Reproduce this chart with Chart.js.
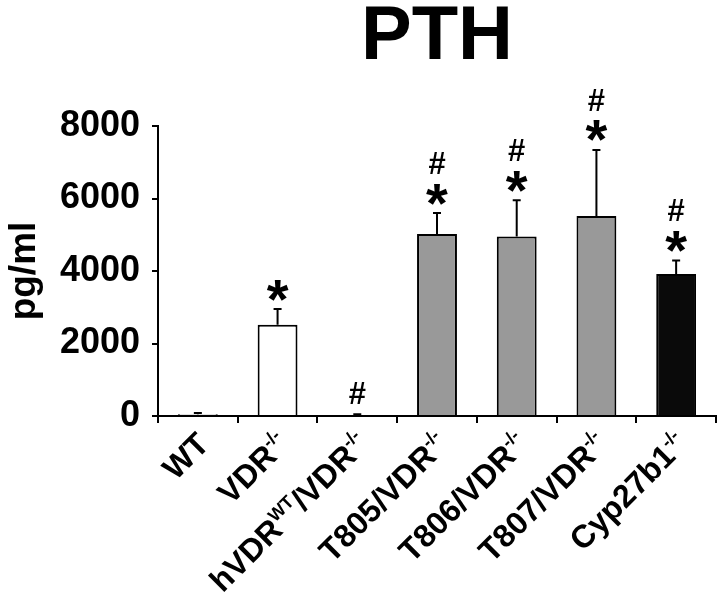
<!DOCTYPE html>
<html>
<head>
<meta charset="utf-8">
<script src="https://cdn.jsdelivr.net/npm/chart.js@4.4.0/dist/chart.umd.min.js"></script>
<style>
  body { margin: 0; background: #fff; }
  canvas { display: block; }
</style>
</head>
<body>
<canvas id="pthChart" width="726" height="613"></canvas>
<script>
// data
const groups = ['WT', 'VDR{-/-}', 'hVDR{WT}/VDR{-/-}', 'T805/VDR{-/-}', 'T806/VDR{-/-}', 'T807/VDR{-/-}', 'Cyp27b1{-/-}']
const pthMean = [50, 2520, 30, 5020, 4950, 5520, 3920]
const pthSem = [30, 430, 15, 580, 1000, 1820, 370]
const starMark = [false, true, false, true, true, true, true]   // * vs WT
const hashMark = [false, false, true, true, true, true, true]   // # vs VDR-/-
const barColors = ['#ffffff', '#ffffff', '#ffffff', '#999999', '#999999', '#999999', '#0a0a0a']
const yTicks = [0, 2000, 4000, 6000, 8000]

const FONT = "'Liberation Sans', Arial, Helvetica, sans-serif"
Chart.defaults.font.family = FONT
Chart.defaults.color = '#000'

// split "VDR{-/-}" into [text, isSup] pieces
const parseLabel = (s) => {
  const parts = []
  s.split(/(\{[^}]*\})/).forEach((p) => {
    if (!p) return
    if (p[0] === '{') parts.push([p.slice(1, -1), true])
    else parts.push([p, false])
  })
  return parts
}

const errorBars = {
  id: 'errorBars',
  afterDatasetsDraw(chart) {
    const ctx = chart.ctx
    const y = chart.scales.y
    const meta = chart.getDatasetMeta(0)
    ctx.save()
    ctx.strokeStyle = '#000'
    ctx.lineWidth = 2
    meta.data.forEach((bar, i) => {
      const top = y.getPixelForValue(pthMean[i] + pthSem[i])
      ctx.beginPath()
      ctx.moveTo(bar.x, bar.y)
      ctx.lineTo(bar.x, top)
      ctx.moveTo(bar.x - 4, top)
      ctx.lineTo(bar.x + 4, top)
      ctx.stroke()

      // significance marks above the error bar
      const drawMark = (ch, size, cy) => {
        ctx.font = `bold ${size}px ${FONT}`
        ctx.textAlign = 'center'
        ctx.textBaseline = 'alphabetic'
        const m = ctx.measureText(ch)
        ctx.fillStyle = '#000'
        ctx.fillText(ch, bar.x, cy + (m.actualBoundingBoxAscent - m.actualBoundingBoxDescent) / 2)
      }
      if (starMark[i]) {
        const cy = top - 19
        drawMark('*', 56, cy)
        if (hashMark[i]) drawMark('#', 31, cy - 31)
      } else if (hashMark[i]) {
        drawMark('#', 31, top - 21)
      }
    })
    ctx.restore()
  },
}

const slantLabels = {
  id: 'slantLabels',
  afterDraw(chart) {
    const ctx = chart.ctx
    const x = chart.scales.x
    const base = chart.chartArea.bottom
    const main = 32
    const sup = 18
    ctx.save()
    ctx.fillStyle = '#000'
    ctx.textBaseline = 'alphabetic'
    ctx.textAlign = 'left'
    groups.forEach((g, i) => {
      const parts = parseLabel(g)
      let w = 0
      parts.forEach(([t, s]) => {
        ctx.font = `bold ${s ? sup : main}px ${FONT}`
        w += ctx.measureText(t).width
      })
      const cx = x.getPixelForTick(i)
      ctx.save()
      ctx.translate(cx + 13, base + 30)
      ctx.rotate(-Math.PI / 4)
      let pos = -w
      parts.forEach(([t, s]) => {
        ctx.font = `bold ${s ? sup : main}px ${FONT}`
        ctx.fillText(t, pos, s ? -13 : 0)
        pos += ctx.measureText(t).width
      })
      ctx.restore()
    })
    ctx.restore()
  },
}

new Chart(document.getElementById('pthChart'), {
  type: 'bar',
  data: {
    labels: groups,
    datasets: [
      {
        data: pthMean,
        backgroundColor: barColors,
        borderColor: '#000',
        borderWidth: 2,
        borderSkipped: 'start',
        barPercentage: 0.5,
        categoryPercentage: 1,
      },
    ],
  },
  options: {
    responsive: false,
    animation: false,
    layout: { padding: { left: 0, right: 10, top: 0, bottom: 0 } },
    plugins: {
      legend: { display: false },
      tooltip: { enabled: false },
      title: {
        display: true,
        fullSize: false,
        text: 'PTH',
        color: '#000',
        font: { size: 76, weight: 'bold', lineHeight: 1 },
        padding: { top: 0, bottom: 50 },
      },
    },
    scales: {
      x: {
        grid: { display: true, offset: true, drawOnChartArea: false, color: '#000', lineWidth: 2, tickLength: 7 },
        border: { display: true, color: '#000', width: 2 },
        ticks: { display: false },
        afterFit: (s) => { s.height = 197 },
      },
      y: {
        min: 0,
        max: 8000,
        afterBuildTicks: (s) => { s.ticks = yTicks.map((v) => ({ value: v })) },
        grid: { display: true, drawOnChartArea: false, color: '#000', lineWidth: 2, tickLength: 6 },
        border: { display: true, color: '#000', width: 2 },
        ticks: { color: '#000', padding: 12, font: { size: 36, weight: 'bold' }, callback: (v) => String(v) },
        title: { display: true, text: 'pg/ml', color: '#000', font: { size: 37, weight: 'bold' }, padding: { top: 3, bottom: 0 } },
        afterFit: (s) => { s.width = 158 },
      },
    },
  },
  plugins: [errorBars, slantLabels],
})
</script>
</body>
</html>
